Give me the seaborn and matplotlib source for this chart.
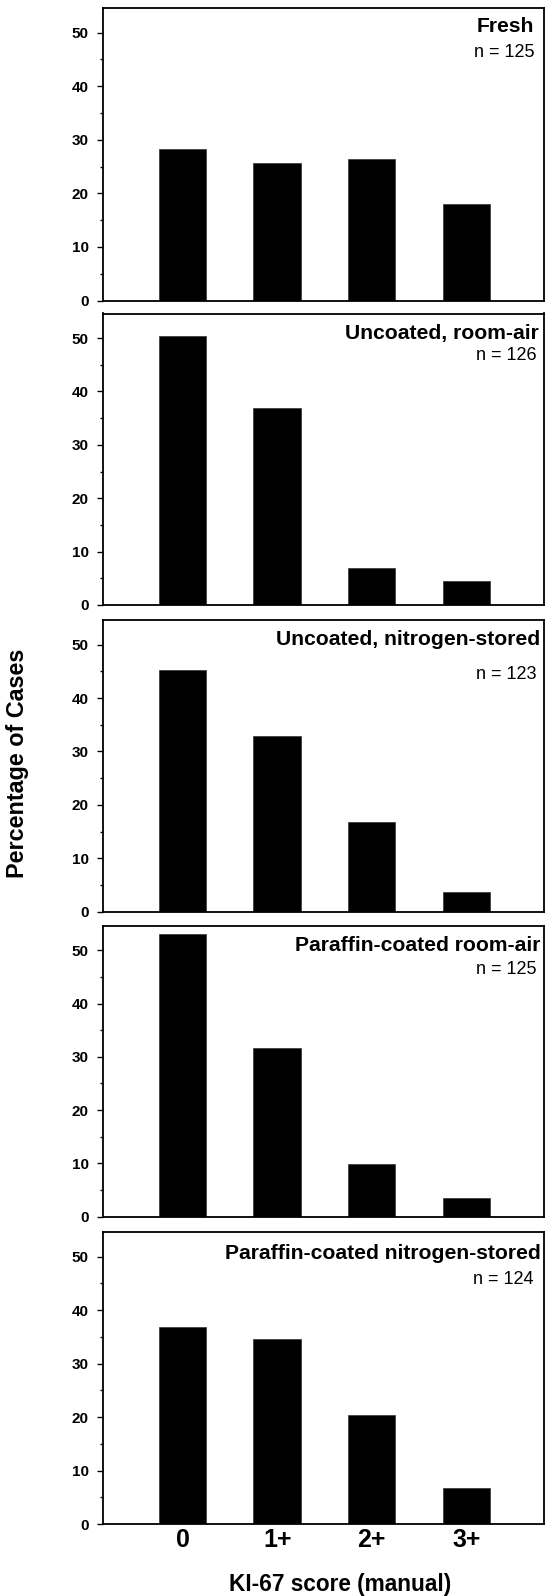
import matplotlib
matplotlib.use("Agg")
import matplotlib.pyplot as plt
import seaborn as sns
import pandas as pd
from matplotlib.ticker import MultipleLocator

categories = ["0", "1+", "2+", "3+"]
panel_titles = ["Fresh", "Uncoated, room-air", "Uncoated, nitrogen-stored",
                "Paraffin-coated room-air", "Paraffin-coated nitrogen-stored"]
panel_n = ["n = 125", "n = 126", "n = 123", "n = 125", "n = 124"]
fresh = [28.3, 25.7, 26.5, 18.0]
uncoated_room_air = [50.4, 36.9, 6.9, 4.5]
uncoated_nitrogen = [45.2, 32.8, 16.8, 3.6]
paraffin_room_air = [53.1, 31.7, 9.9, 3.6]
paraffin_nitrogen = [36.9, 34.6, 20.3, 6.8]
series = [fresh, uncoated_room_air, uncoated_nitrogen, paraffin_room_air, paraffin_nitrogen]
y_ticks = [0, 10, 20, 30, 40, 50]
x_label = "KI-67 score (manual)"
y_label = "Percentage of Cases"

sns.set_style("ticks")
plt.rcParams["font.family"] = ["Liberation Sans", "DejaVu Sans"]
plt.rcParams["text.color"] = "black"
plt.rcParams["xtick.color"] = "black"
plt.rcParams["ytick.color"] = "black"

W, H = 545, 1596
fig = plt.figure(figsize=(W / 100, H / 100), dpi=100)

# pixel layout: (top spine, zero line)
layout = [(8, 300.5), (313.5, 605), (620, 911.7), (925.7, 1216.7), (1232, 1524)]
title_pos = [(534, 32, 534, 57), (539, 339.3, 537, 360), (540, 645, 537, 679.3),
             (540.5, 950.7, 537, 974), (541, 1259.3, 533.5, 1284.3)]
left_px, right_px = 103, 544

for i, (vals, title, n) in enumerate(zip(series, panel_titles, panel_n)):
    top, bot = layout[i]
    ax = fig.add_axes([left_px / W, 1 - bot / H, (right_px - left_px) / W, (bot - top) / H])
    df = pd.DataFrame({"score": categories, "pct": vals})
    sns.barplot(data=df, x="score", y="pct", color="black", width=0.5,
                saturation=1, edgecolor="#333333", linewidth=0.5, ax=ax)
    ax.set_xlim(-0.84, 3.82)
    ax.set_ylim(0, 54.6)
    ax.set_yticks(y_ticks)
    ax.yaxis.set_minor_locator(MultipleLocator(5))
    ax.tick_params(axis="y", which="major", direction="out", length=4.3, width=1,
                   pad=6, labelsize=11, colors="black")
    ax.tick_params(axis="y", which="minor", direction="out", length=2.3, width=1)
    for lab in ax.get_yticklabels():
        lab.set_fontweight("bold")
    ax.set_xlabel("")
    ax.set_ylabel("")
    if i < 4:
        ax.tick_params(axis="x", length=0, labelbottom=False)
    else:
        ax.tick_params(axis="x", length=0, pad=3, labelsize=18, colors="black")
        for lab in ax.get_xticklabels():
            lab.set_fontweight("bold")
    for s in ["left", "top", "right", "bottom"]:
        ax.spines[s].set_visible(True)
        ax.spines[s].set_color("black")
        ax.spines[s].set_linewidth(1.3)
    tx, ty, nx, ny = title_pos[i]
    fig.text(tx / W, 1 - ty / H, title, ha="right", va="baseline",
             fontsize=15.2, fontweight="bold", color="black")
    fig.text(nx / W, 1 - ny / H, n, ha="right", va="baseline", fontsize=13,
             color="black")

fig.text(340 / W, 1 - 1591 / H, x_label, ha="center", va="baseline",
         fontsize=16.3, fontweight="bold", color="black")
fig.text(17.5 / W, 1 - 763 / H, y_label, ha="center", va="center", rotation=90,
         fontsize=16.8, fontweight="bold", color="black")

fig.savefig("out.png", dpi=100)
